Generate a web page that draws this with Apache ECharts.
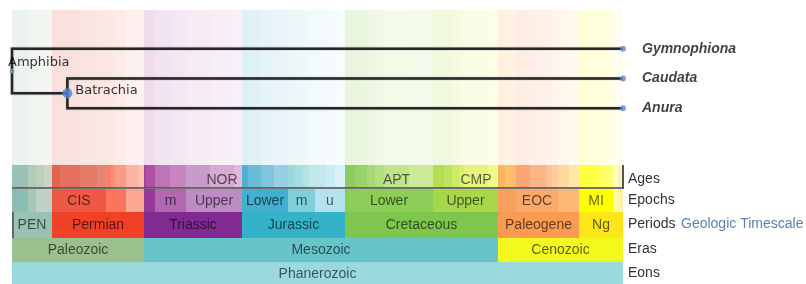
<!DOCTYPE html>
<html><head><meta charset="utf-8">
<script src="https://cdn.jsdelivr.net/npm/echarts@6/dist/echarts.min.js"></script>
<style>html,body{margin:0;padding:0;background:#fff}#c{width:806px;height:284px}</style>
</head><body><div id="c"></div>
<script>
// ================= DATA =================
// Phylogeny
const taxa = ['Gymnophiona', 'Caudata', 'Anura'];
const cladeNames = ['Amphibia', 'Batrachia'];
const cladeAges = [320, 291];            // Ma
const tipAge = 0;

// Geologic timescale (Ma, start of each unit; each ends where the next starts, last ends at 0)
const ageStarts = [320, 311.7, 307.2, 303.4, 299, 294.6, 284.4, 275.6, 270.6, 268, 265.8, 260.4, 253.8,
  251, 249.7, 245, 237, 228.7, 216.5, 203.6,
  199.6, 196.5, 189.6, 183, 175.6, 171.6, 167.7, 164.7, 161.2, 155.6, 150.8,
  145.5, 140.2, 133.9, 130, 125, 112, 99.6, 93.5, 89.3, 85.8, 83.5, 70.6,
  65.5, 61.7, 58.7, 55.8, 48.6, 40.4, 37.2, 33.9, 28.4,
  23.03, 20.43, 15.97, 13.82, 11.61, 7.25, 5.33, 3.6, 2.59, 1.81, 0.78, 0.13];
const ageLabels = ['', '', '', '', '', '', '', '', '', '', '', '', '',
  '', '', '', '', '', 'NOR', '',
  '', '', '', '', '', '', '', '', '', '', '',
  '', '', '', '', 'APT', '', '', '', '', '', 'CMP', '',
  '', '', '', '', '', '', '', '', '',
  '', '', '', '', '', '', '', '', '', '', '', ''];
const ageColors = ['#99C2B5', '#B3CBB9', '#BFD0BA', '#CCD4C7', '#E36350', '#E36F5C', '#E37B68', '#E38776', '#FB8069', '#FB8D76', '#FB9A85', '#FCB4A2', '#FCC0B2',
  '#A4469F', '#B051A5', '#BC75B7', '#C983BF', '#C99BCB', '#D6AAD3', '#E3B9DB',
  '#4EB3D3', '#67BCD8', '#80C5DD', '#99CEE3', '#9AD9DD', '#A6DDE0', '#B3E2E3', '#BFE7E5', '#BFE7F1', '#CCECF4', '#D9F1F7',
  '#8CCD60', '#99D36A', '#A6D975', '#B3DF7F', '#BFE48A', '#CCEA97', '#B3DE53', '#BFE35D', '#CCE968', '#D9EF74', '#E6F47F', '#F2FA8C',
  '#FDB462', '#FEBF65', '#FDBF6F', '#FCA773', '#FCB482', '#FDC091', '#FDCDA1', '#FED99A', '#FEE6AA',
  '#FFFF33', '#FFFF41', '#FFFF4D', '#FFFF59', '#FFFF66', '#FFFF73', '#FFFFB3', '#FFFFBF', '#FFEDB3', '#FFF2BA', '#FFF2C7', '#FFF2D3'];

const epochStarts = [320, 311.7, 307.2, 299, 270.6, 260.4, 251, 245, 228.7, 199.6, 175.6, 161.2, 145.5, 99.6, 65.5, 55.8, 33.9, 23.03, 5.33, 2.59, 0.0117];
const epochLabels = ['', '', '', 'CIS', '', '', '', 'm', 'Upper', 'Lower', 'm', 'u', 'Lower', 'Upper', '', 'EOC', '', 'MI', '', '', ''];
const epochColors = ['#8CBEB4', '#A6C7B7', '#BFD0C5', '#EF5845', '#FB745C', '#FBA794', '#983999', '#B168B1', '#BD8CC3', '#42AED0', '#80CFD8', '#B3E3EE', '#8CCD57', '#A6D84A', '#FB9F5C', '#FCA86A', '#FDB878', '#FFFF00', '#FFFF99', '#FFF2AE', '#FEF2E0'];

const periodStarts = [320, 299, 251, 199.6, 145.5, 65.5, 23.03];
const periodLabels = ['PEN', 'Permian', 'Triassic', 'Jurassic', 'Cretaceous', 'Paleogene', 'Ng'];
const periodColors = ['#99C2B5', '#F04028', '#812B92', '#34B2C9', '#7FC64E', '#FD9A52', '#FFE619'];

const eraStarts = [320, 251, 65.5];
const eraLabels = ['Paleozoic', 'Mesozoic', 'Cenozoic'];
const eraColors = ['#99C08D', '#67C5CA', '#F2F91D'];

const eonStarts = [320];
const eonLabels = ['Phanerozoic'];
const eonColors = ['#9AD9DD'];

const rowLabels = ['Ages', 'Epochs', 'Periods', 'Eras', 'Eons'];
const linkLabel = 'Geologic Timescale';

// ================= LAYOUT / STYLE =================
const AXIS_MIN = 0, AXIS_MAX = 320;
const ROWS = { bg: [10, 165], ages: [165, 188], epochs: [189, 212], periods: [212, 238], eras: [238, 262], eons: [262, 284] };
const ROW_TEXT_DY = { ages: 4, epochs: 1, periods: 0, eras: 0, eons: 1 };
const SANS = '"Liberation Sans", Arial, sans-serif';

const bands = [];
function addRow(row, starts, labels, colors, op) {
  starts.forEach((s, i) => {
    const e = i + 1 < starts.length ? starts[i + 1] : 0;
    bands.push({ s, e, row, color: colors[i], label: op < 1 ? '' : (labels[i] || ''), op });
  });
}
addRow('bg', ageStarts, ageLabels, ageColors, 0.2);
addRow('ages', ageStarts, ageLabels, ageColors, 1);
addRow('epochs', epochStarts, epochLabels, epochColors, 1);
addRow('periods', periodStarts, periodLabels, periodColors, 1);
addRow('eras', eraStarts, eraLabels, eraColors, 1);
addRow('eons', eonStarts, eonLabels, eonColors, 1);

function renderBand(params, api) {
  const b = bands[params.dataIndex];
  const x0 = Math.round(api.coord([api.value(0), 0])[0]);
  const x1 = Math.round(api.coord([api.value(1), 0])[0]);
  const [y0, y1] = ROWS[b.row];
  const el = {
    type: 'rect',
    shape: { x: x0, y: y0, width: x1 - x0, height: y1 - y0 },
    style: { fill: b.color, opacity: b.op },
    silent: true
  };
  if (b.label) {
    el.textContent = { style: { text: b.label, fill: 'rgba(0,0,0,0.62)', fontSize: 14, fontFamily: SANS } };
    el.textConfig = { position: 'inside', offset: [0, ROW_TEXT_DY[b.row]] };
  }
  return el;
}

function renderFrame(params, api) {
  const xl = Math.round(api.coord([AXIS_MAX, 0])[0]);
  const xr = Math.round(api.coord([AXIS_MIN, 0])[0]);
  return {
    type: 'group', silent: true, children: [
      { type: 'line', shape: { x1: xl, y1: ROWS.ages[1], x2: xr, y2: ROWS.ages[1] }, style: { stroke: 'rgba(80,80,80,0.8)', lineWidth: 2 } },
      { type: 'line', shape: { x1: xr, y1: ROWS.ages[0], x2: xr, y2: ROWS.ages[1] + 1 }, style: { stroke: '#555', lineWidth: 2 } },
      { type: 'line', shape: { x1: xl + 1, y1: ROWS.periods[0], x2: xl + 1, y2: ROWS.periods[1] }, style: { stroke: '#666', lineWidth: 2 } }
    ]
  };
}

// Tree geometry from data
const tipY = taxa.map((t, i) => i);
const batY = (tipY[1] + tipY[2]) / 2;
const rootY = (tipY[0] + batY) / 2;
const edges = [
  [cladeAges[0], rootY, tipAge, tipY[0]],
  [cladeAges[0], rootY, cladeAges[1], batY],
  [cladeAges[1], batY, tipAge, tipY[1]],
  [cladeAges[1], batY, tipAge, tipY[2]]
];
function renderEdge(params, api) {
  const p = api.coord([api.value(0), api.value(1)]);
  const m = api.coord([api.value(0), api.value(3)]);
  const c = api.coord([api.value(2), api.value(3)]);
  return {
    type: 'polyline', silent: true,
    shape: { points: [p, m, c] },
    style: { stroke: '#262626', lineWidth: 2.5, fill: null, shadowColor: 'rgba(0,0,0,0.35)', shadowBlur: 1.5 }
  };
}

const chart = echarts.init(document.getElementById('c'), null, { renderer: 'canvas' });
const gridLeft = 12, gridRight = 183;
chart.setOption({
  animation: false,
  grid: [
    { left: gridLeft, right: gridRight, top: 0, bottom: 0 },
    { left: gridLeft, right: gridRight, top: 34, height: 89 }
  ],
  xAxis: [
    { gridIndex: 0, type: 'value', inverse: true, min: AXIS_MIN, max: AXIS_MAX, show: false },
    { gridIndex: 1, type: 'value', inverse: true, min: AXIS_MIN, max: AXIS_MAX, show: false }
  ],
  yAxis: [
    { gridIndex: 0, type: 'value', min: 0, max: 1, show: false },
    { gridIndex: 1, type: 'value', inverse: true, min: -0.5, max: 2.5, show: false }
  ],
  series: [
    { type: 'custom', xAxisIndex: 0, yAxisIndex: 0, renderItem: renderBand, data: bands.map(b => [b.s, b.e]), encode: { x: [0, 1] }, z: 1 },
    { type: 'custom', xAxisIndex: 0, yAxisIndex: 0, renderItem: renderFrame, data: [[AXIS_MAX, AXIS_MIN]], encode: { x: [0, 1] }, z: 2 },
    { type: 'custom', xAxisIndex: 1, yAxisIndex: 1, renderItem: renderEdge, data: edges, encode: { x: [0, 2], y: [1, 3] }, z: 3 },
    {
      type: 'scatter', xAxisIndex: 1, yAxisIndex: 1, z: 4, silent: true,
      data: taxa.map((t, i) => ({ name: t, value: [tipAge, tipY[i]] })),
      symbolSize: 6, itemStyle: { color: '#5b8fd6' },
      label: { show: true, formatter: '{b}', position: 'inside', align: 'left', offset: [19, 0], color: '#111', fontSize: 14, fontWeight: 'bold', fontStyle: 'italic', fontFamily: SANS }
    },
    {
      type: 'scatter', xAxisIndex: 1, yAxisIndex: 1, z: 5, silent: true,
      data: [
        { name: cladeNames[0], value: [cladeAges[0], rootY], symbolSize: 5, itemStyle: { color: '#8a9cae' }, label: { offset: [-4, -8] } },
        { name: cladeNames[1], value: [cladeAges[1], batY], symbolSize: 10, itemStyle: { color: '#4a88d8' }, label: { offset: [8, -3] } }
      ],
      label: { show: true, formatter: '{b}', position: 'inside', align: 'left', color: '#000', fontSize: 13, fontFamily: '"DejaVu Sans", sans-serif' }
    }
  ],
  graphic: rowLabels.map((t, i) => {
    const key = ['ages', 'epochs', 'periods', 'eras', 'eons'][i];
    const yc = (ROWS[key][0] + ROWS[key][1]) / 2 + ROW_TEXT_DY[key];
    return { type: 'text', left: 628, top: yc - 8, style: { text: t, fill: '#333', fontSize: 14, fontFamily: SANS } };
  }).concat([{ type: 'text', left: 681, top: (ROWS.periods[0] + ROWS.periods[1]) / 2 - 8, style: { text: linkLabel, fill: '#5a82b4', fontSize: 14, fontFamily: SANS } }])
});
</script>
</body></html>
